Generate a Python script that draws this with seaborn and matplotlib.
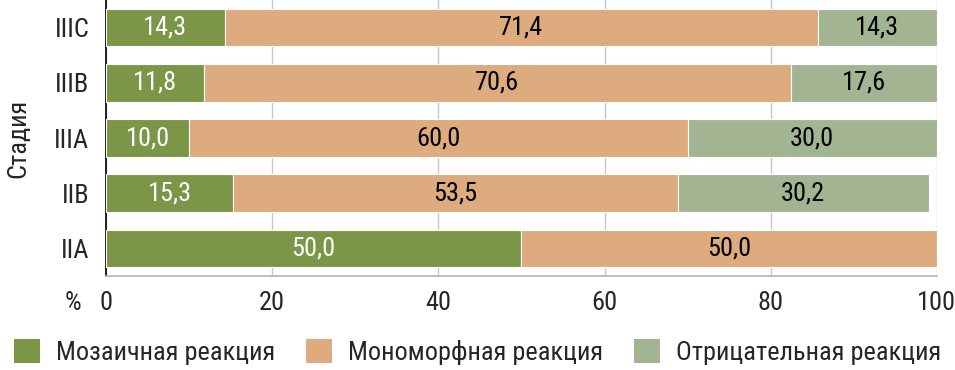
import numpy as np
import pandas as pd
import matplotlib
matplotlib.use('Agg')
import matplotlib.pyplot as plt
import seaborn as sns
from matplotlib.patches import Patch
from matplotlib.ticker import FixedLocator

# data
stages = ['IIIC', 'IIIB', 'IIIA', 'IIB', 'IIA']
mosaic = [14.3, 11.8, 10.0, 15.3, 50.0]
mono = [71.4, 70.6, 60.0, 53.5, 50.0]
negative = [14.3, 17.6, 30.0, 30.2, 0.0]
series_names = ['Мозаичная реакция', 'Мономорфная реакция', 'Отрицательная реакция']
colors = ['#7b9646', '#ddab7d', '#a3b493']
text_colors = ['white', 'black', 'black']
x_ticks = [0, 20, 40, 60, 80, 100]

sns.set_style('white')
plt.rcParams['font.family'] = ['Roboto Condensed', 'DejaVu Sans']
fs = 19

fig = plt.figure(figsize=(9.55, 3.70), dpi=100)
ax = fig.add_axes([0.111, 0.254, 0.87, 0.746])

df = pd.DataFrame({'stage': stages, 'mosaic': mosaic, 'mono': mono, 'negative': negative})
left = np.zeros(len(stages))
for col, name, c, tc in zip(['mosaic', 'mono', 'negative'], series_names, colors, text_colors):
    sns.barplot(data=df, x=col, y='stage', order=stages, left=left, color=c, saturation=1,
                width=0.68, edgecolor='white', linewidth=0.8, ax=ax, zorder=3)
    cont = ax.containers[-1]
    labels = [f'{v:.1f}'.replace('.', ',') if v > 0 else '' for v in df[col]]
    ax.bar_label(cont, labels=labels, label_type='center', color=tc, fontsize=fs)
    left = left + df[col].values

ax.set_xlim(0, 100)
ax.set_ylim(len(stages) - 0.5, -0.5)
ax.xaxis.set_major_locator(FixedLocator(x_ticks))
ax.grid(axis='x', color='#c8c8c8', linewidth=1, zorder=0)
ax.set_axisbelow(True)

for s in ['top', 'right']:
    ax.spines[s].set_visible(False)
ax.spines['left'].set_color('black')
ax.spines['left'].set_linewidth(1.2)
ax.spines['bottom'].set_color('#b4b4b4')
ax.spines['bottom'].set_linewidth(1.2)

ax.tick_params(axis='x', length=4, color='#b4b4b4', labelsize=fs, pad=7)
ax.tick_params(axis='y', which='major', length=0, labelsize=fs, pad=12)
ax.yaxis.set_minor_locator(FixedLocator(np.arange(-0.5, len(stages), 1)))
ax.tick_params(axis='y', which='minor', length=5, color='black', width=1)

ax.set_xlabel('')
ax.set_ylabel('Стадия', fontsize=fs, labelpad=17)
ax.text(-0.03, -0.098, '%', transform=ax.transAxes, ha='right', va='center', fontsize=fs)

handles = [Patch(facecolor=c, edgecolor='none') for c in colors]
fig.legend(handles, series_names, loc='lower center', ncol=3, frameon=False,
           fontsize=fs, handlelength=1.0, handleheight=1.0, handletextpad=0.6,
           columnspacing=1.15, bbox_to_anchor=(0.5, -0.05))

fig.savefig('out.png', dpi=100)
